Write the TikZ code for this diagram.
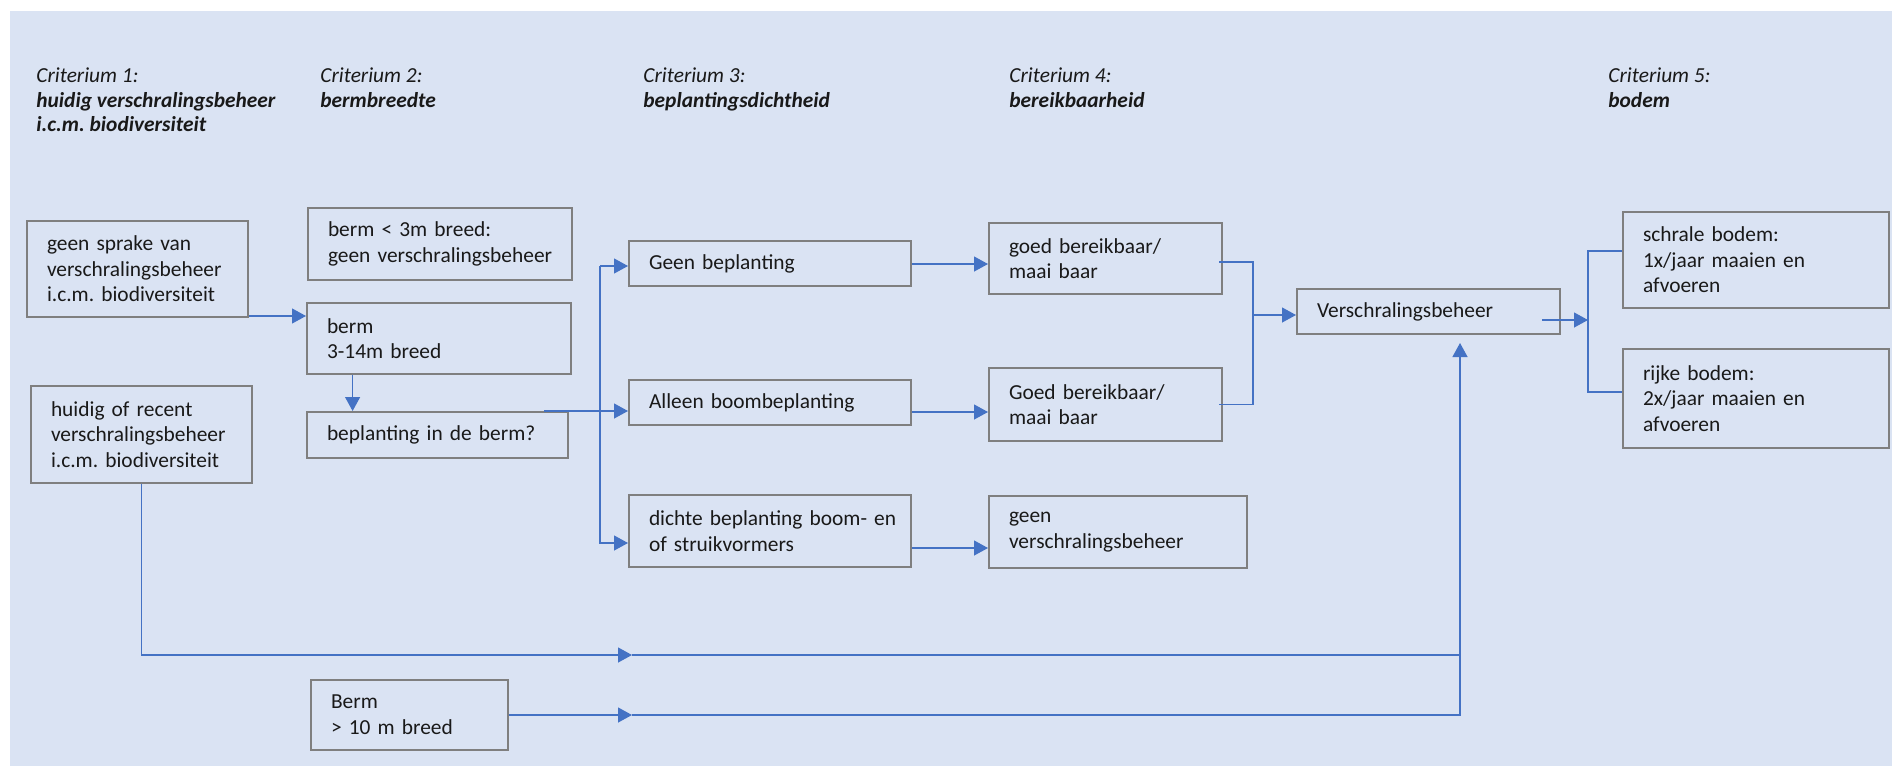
\documentclass[tikz,border=0pt]{standalone}
\usepackage{fontspec}
\setmainfont{Carlito}
\usetikzlibrary{arrows.meta,calc}
\definecolor{achtergrond}{HTML}{DAE3F3}
\definecolor{lijnblauw}{HTML}{4472C4}
\definecolor{randgrijs}{HTML}{7F7F7F}
\newcommand{\tekst}{\fontsize{10.7}{12.8}\selectfont\frenchspacing}
\tikzset{
  blok/.style={draw=randgrijs, line width=1pt, inner xsep=10pt, inner ysep=0pt, align=left, font=\tekst, text=black!90},
  kop/.style={inner sep=0pt, align=left, anchor=base west, font=\fontsize{10.7}{12.35}\selectfont\frenchspacing, text=black!90},
  lijn/.style={draw=lijnblauw, line width=0.6pt},
  pijl/.style={lijn, -{Triangle[length=7pt,width=7.5pt]}},
}

\begin{document}
\begin{tikzpicture}[x=0.5pt, y=-0.5pt]
  \useasboundingbox (0,0) rectangle (1892,766);
  \fill[achtergrond] (10,11) rectangle (1892,766);
  % kopjes (anker op de onderste regel)
  \node[kop] (c1) at (36,131.7) {\textit{Criterium 1:}\\\textbf{\textit{huidig verschralingsbeheer}}\\\textbf{\textit{i.c.m. biodiversiteit}}};
  \node[kop] (c2) at (320,107) {\textit{Criterium 2:}\\\textbf{\textit{bermbreedte}}};
  \node[kop] (c3) at (643,107) {\textit{Criterium 3:}\\\textbf{\textit{beplantingsdichtheid}}};
  \node[kop] (c4) at (1009,107) {\textit{Criterium 4:}\\\textbf{\textit{bereikbaarheid}}};
  \node[kop] (c5) at (1608,107) {\textit{Criterium 5:}\\\textbf{\textit{bodem}}};
  % criterium 1 en 2
  \node[blok, text width=90.5pt, minimum height=48pt] (g1) at (137.5,269) {geen sprake van\\verschralingsbeheer\\i.c.m. biodiversiteit};
  \node[blok, text width=90.5pt, minimum height=48.5pt] (h1) at (141.5,434.5) {huidig of recent\\verschralingsbeheer\\i.c.m. biodiversiteit};
  \node[blok, text width=112pt, minimum height=36pt] (b1) at (440,244) {\mbox{berm < 3m breed:}\\\mbox{geen verschralingsbeheer}};
  \node[blok, text width=112pt, minimum height=35.5pt] (b2) at (439,338.5) {berm\\3-14m breed};
  \node[blok, text width=110.5pt, minimum height=23pt] (b3) at (437.5,435) {beplanting in de berm?};
  \node[blok, text width=78.5pt, minimum height=35pt] (b4) at (409.5,715) {Berm\\> 10 m breed};
  % criterium 3
  \node[blok, text width=121pt, minimum height=22.5pt] (p1) at (770,263.5) {Geen beplanting};
  \node[blok, text width=121pt, minimum height=22.5pt] (p2) at (770,402.5) {Alleen boombeplanting};
  \node[blok, text width=121pt, minimum height=36pt] (p3) at (770,531) {\mbox{dichte beplanting boom- en}\\of struikvormers};
  % criterium 4
  \node[blok, text width=96.5pt, minimum height=35.5pt] (r1) at (1105.5,258.5) {goed bereikbaar/\\maai baar};
  \node[blok, text width=96.5pt, minimum height=36.5pt] (r2) at (1105.5,404.5) {Goed bereikbaar/\\maai baar};
  \node[blok, text width=109pt, minimum height=36pt] (r3) at (1118,532) {geen\\verschralingsbeheer};
  % criterium 5
  \node[blok, text width=111.5pt, minimum height=22.5pt] (v) at (1428.5,311.5) {Verschralingsbeheer};
  \node[blok, text width=113pt, minimum height=48pt] (s1) at (1756,260) {schrale bodem:\\1x/jaar maaien en\\afvoeren};
  \node[blok, text width=113pt, minimum height=49.5pt] (s2) at (1756,398.5) {rijke bodem:\\2x/jaar maaien en\\afvoeren};
  % verbindingen
  \coordinate (g1o) at ([yshift=1pt]g1.south east);
  \draw[pijl] (g1o) -- (g1o -| b2.west);
  \coordinate (b2o) at ([xshift=23.3pt]b2.south west);
  \draw[pijl] (b2o) -- (b2o |- b3.north);
  \coordinate (b3o) at ([xshift=-12.5pt]b3.north east);
  \draw[pijl] (b3o) -- (b3o -| p2.west);
  \coordinate (tak) at ([xshift=-14pt]p1.west);
  \coordinate (p1a) at ([yshift=-1.25pt]p1.west);
  \coordinate (p3a) at ([yshift=-6pt]p3.west);
  \draw[pijl] (p1a -| tak) -- (p1a);
  \draw[pijl] (p1a -| tak) |- (p3a);
  \coordinate (p1o) at ([yshift=-0.25pt]p1.east);
  \draw[pijl] (p1o) -- (p1o -| r1.west);
  \coordinate (p2o) at ([yshift=-4.75pt]p2.east);
  \draw[pijl] (p2o) -- (p2o -| r2.west);
  \coordinate (p3o) at ([yshift=-8.5pt]p3.east);
  \draw[pijl] (p3o) -- (p3o -| r3.west);
  \coordinate (vin) at ([yshift=-1.75pt]v.west);
  \coordinate (samen) at ($(r1.east |- vin)+(15pt,0)$);
  \draw[lijn] ([xshift=-2pt,yshift=-1.75pt]r1.east) -| (samen) |- ([xshift=-2pt]r2.east);
  \draw[pijl] (samen) -- (vin);
  \coordinate (vo) at ([xshift=-9.5pt,yshift=-4.25pt]v.east);
  \coordinate (splits) at ($(s1.west |- vo)+(-17pt,0)$);
  \draw[pijl] (vo) -- (splits);
  \draw[lijn] ([yshift=4.5pt]s1.west) -| (splits) |- ([yshift=3.25pt]s2.west);
  \coordinate (pm) at ([xshift=2pt]p2.west);
  \coordinate (onder) at ([xshift=15.75pt,yshift=-4pt]v.south);
  \coordinate (k1) at ($(pm |- b4.north)+(0,12pt)$);
  \draw[pijl] (h1.south) |- (k1);
  \draw[lijn] (k1) -- (k1 -| onder);
  \draw[pijl] (b4.east) -- (b4.east -| pm);
  \draw[pijl] (b4.east -| pm) -| (onder);
\end{tikzpicture}
\end{document}
